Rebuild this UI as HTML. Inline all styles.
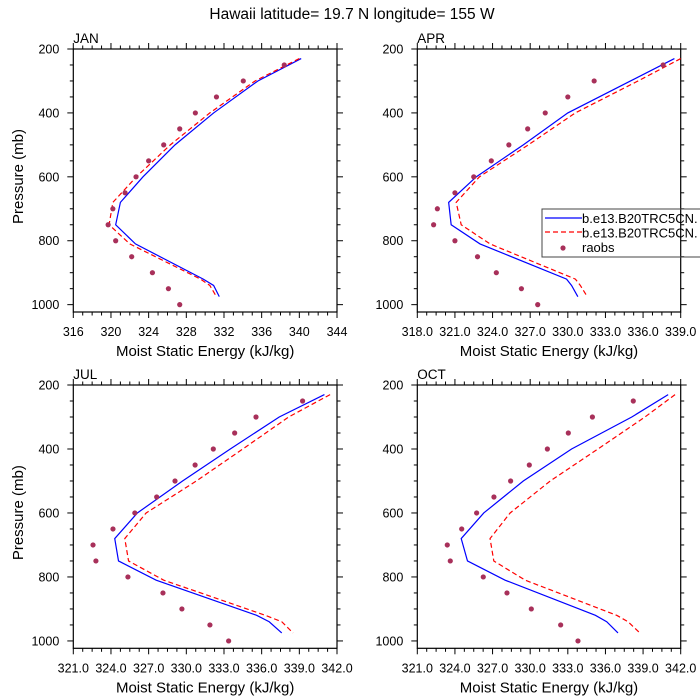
<!DOCTYPE html>
<html><head><meta charset="utf-8"><style>
body{margin:0;background:#fff;}
svg{display:block;font-family:"Liberation Sans",sans-serif;}
</style></head><body>
<svg id="chart" width="700" height="700" viewBox="0 0 700 700" xmlns="http://www.w3.org/2000/svg">
<text x="352" y="19" font-size="15.5" text-anchor="middle">Hawaii  latitude= 19.7 N longitude= 155 W</text>
</svg>
<script>
const modelPressures=[230,300,400,500,600,680,750,810,920,940,975];
const obsPressures=[250,300,350,400,450,500,550,600,650,700,750,800,850,900,950,1000];
const panelNames=["JAN","APR","JUL","OCT"];
const xMins=[316,318,321,321];
const xMaxs=[344,339,342,342];
const xSteps=[4,3,3,3];
const xDecimals=[0,1,1,1];
const yTicks=[200,400,600,800,1000];
const blueJAN=[340.2,335.6,330.9,326.8,323.4,321.0,320.5,322.6,329.8,330.9,331.5];
const redJAN=[340.0,335.3,330.5,326.3,322.7,320.2,319.8,322.0,329.5,330.5,331.2];
const obsJAN=[338.4,334.05,331.2,328.96,327.3,325.6,324.0,322.66,321.5,320.2,319.7,320.5,322.2,324.4,326.1,327.3];
const blueAPR=[338.5,335.0,330.0,326.45,322.7,320.5,320.7,323.0,329.9,330.3,330.8];
const redAPR=[339.0,335.6,330.6,326.85,322.95,321.1,321.5,323.8,330.6,331.0,331.55];
const obsAPR=[337.6,332.1,330.0,328.2,326.8,325.3,323.9,322.5,321.0,319.6,319.3,321.0,322.8,324.3,326.3,327.6];
const blueJUL=[341.0,337.4,333.5,329.7,326.1,324.3,324.6,327.6,335.6,336.6,337.6];
const redJUL=[341.45,338.15,334.5,330.8,326.8,325.1,325.4,328.2,336.3,337.6,338.5];
const obsJUL=[339.26,335.55,333.85,332.15,330.7,329.1,327.64,325.9,324.16,322.57,322.8,325.35,328.14,329.65,331.88,333.37];
const blueOCT=[341.0,338.1,333.3,329.45,326.3,324.5,325.0,328.0,335.2,336.1,337.0];
const redOCT=[341.55,339.15,335.4,331.6,328.4,326.8,327.1,329.6,336.9,337.8,338.75];
const obsOCT=[338.22,334.96,333.04,331.37,329.93,328.44,327.11,325.73,324.54,323.39,323.63,326.26,328.15,330.09,332.43,333.81];
const blueSeries=[blueJAN,blueAPR,blueJUL,blueOCT];
const redSeries=[redJAN,redAPR,redJUL,redOCT];
const obsSeries=[obsJAN,obsAPR,obsJUL,obsOCT];

const NS="http://www.w3.org/2000/svg";
const svg=document.getElementById("chart");
function mk(tag,attrs,parent){const e=document.createElementNS(NS,tag);for(const k in attrs)e.setAttribute(k,attrs[k]);(parent||svg).appendChild(e);return e;}
const boxes=[[73.3,49,337,312],[417.3,49,680.7,312],[73.3,385,337,648.3],[417.3,385,680.7,648.3]];
const P0=200,P1=1023;
for(let i=0;i<4;i++){
  const [L,T,R,B]=boxes[i];
  const xs=v=>L+(v-xMins[i])/(xMaxs[i]-xMins[i])*(R-L);
  const ys=p=>T+(p-P0)/(P1-P0)*(B-T);
  const g=mk("g",{});
  
  
  const fr=mk("rect",{x:L,y:T,width:R-L,height:B-T,fill:"none",stroke:"#000","stroke-width":1.2},g);
  
  
  const lab=mk("text",{x:L,y:T-6,"font-size":13.5},g);lab.textContent=panelNames[i];
  
  
  const st=xSteps[i];
  for(let v=xMins[i];v<=xMaxs[i]+1e-6;v+=st/4){
    const major=Math.abs(((v-xMins[i])/st)-Math.round((v-xMins[i])/st))<1e-6;
    const x=xs(v),len=major?6:3.5;
    mk("line",{x1:x,y1:B,x2:x,y2:B+len,stroke:"#000","stroke-width":1},g);
    mk("line",{x1:x,y1:T,x2:x,y2:T-len,stroke:"#000","stroke-width":1},g);
    if(major){const t=mk("text",{x:x,y:B+24,"font-size":12.5,"text-anchor":"middle"},g);t.textContent=v.toFixed(xDecimals[i]);
      
      }
  }
  for(let p=200;p<=1000;p+=50){
    const major=p%200===0,y=ys(p),len=major?6:3.5;
    mk("line",{x1:L,y1:y,x2:L-len,y2:y,stroke:"#000","stroke-width":1},g);
    mk("line",{x1:R,y1:y,x2:R+len,y2:y,stroke:"#000","stroke-width":1},g);
  }
  for(const p of yTicks){const t=mk("text",{x:L-14,y:ys(p)+4.5,"font-size":12.5,"text-anchor":"end"},g);t.textContent=p;
    
    }
  const xt=mk("text",{x:(L+R)/2,y:B+44,"font-size":15,"text-anchor":"middle"},g);xt.textContent="Moist Static Energy (kJ/kg)";
  
  
  if(i%2===0){const yt=mk("text",{x:0,y:0,"font-size":15,"text-anchor":"middle",transform:`translate(23,${(T+B)/2-4}) rotate(-90)`},g);yt.textContent="Pressure (mb)";
    
    }
  const bp=mk("polyline",{points:blueSeries[i].map((v,k)=>xs(v)+","+ys(modelPressures[k])).join(" "),fill:"none",stroke:"#0000ff","stroke-width":1.2},g);
  
  
  const rp=mk("polyline",{points:redSeries[i].map((v,k)=>xs(v)+","+ys(modelPressures[k])).join(" "),fill:"none",stroke:"#ff0000","stroke-width":1.2,"stroke-dasharray":"5,3"},g);
  
  
  obsSeries[i].forEach((v,k)=>{const c=mk("circle",{cx:xs(v),cy:ys(obsPressures[k]),r:2.6,fill:"#a8305a"},g);
    
    });
}
const lg=mk("g",{});


mk("rect",{x:542,y:209,width:170,height:48,fill:"none",stroke:"#444","stroke-width":1},lg);
mk("line",{x1:545,y1:218,x2:582,y2:218,stroke:"#0000ff","stroke-width":1.2},lg);
mk("line",{x1:545,y1:232,x2:582,y2:232,stroke:"#ff0000","stroke-width":1.2,"stroke-dasharray":"5,3"},lg);
mk("circle",{cx:563,cy:248,r:2.6,fill:"#a8305a"},lg);
const labels=["b.e13.B20TRC5CN.","b.e13.B20TRC5CN.","raobs"];
labels.forEach((s,k)=>{const t=mk("text",{x:582,y:223+k*14.5,"font-size":13},lg);t.textContent=s;
  
  });
</script>
</body></html>
